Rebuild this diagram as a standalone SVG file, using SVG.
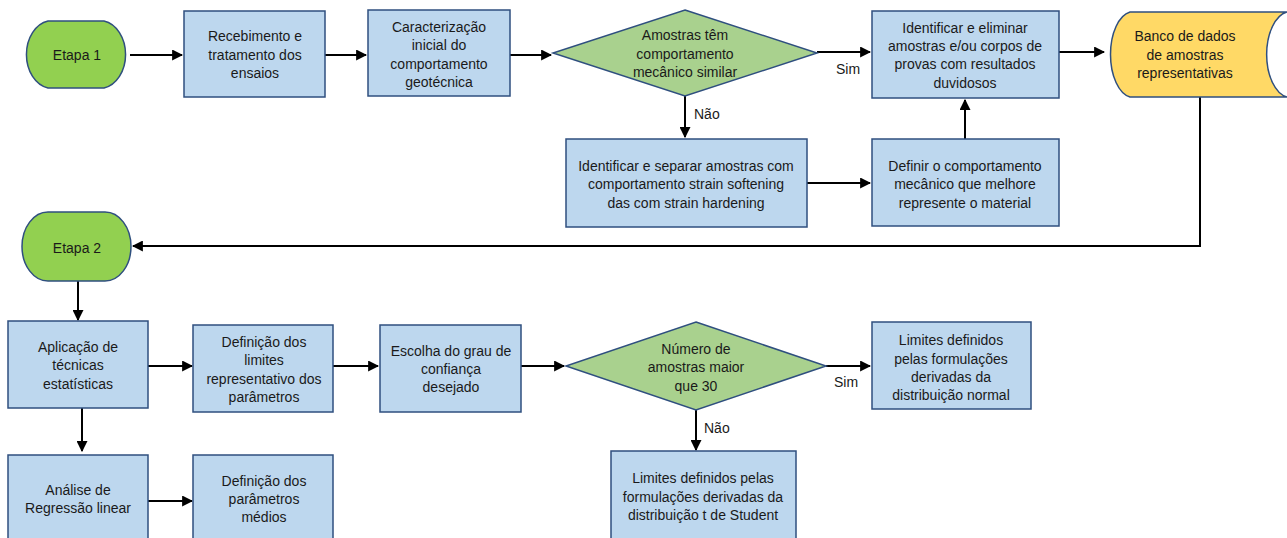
<svg xmlns="http://www.w3.org/2000/svg" width="1287" height="538" viewBox="0 0 1287 538">
<defs>
<style>
.box{fill:#bdd7ee;stroke:#2f4f7f;stroke-width:1.5}
.term{fill:#92d050;stroke:#2f4f7f;stroke-width:1.5}
.dia{fill:#a9d18e;stroke:#2f4f7f;stroke-width:1.5}
.db{fill:#ffd966;stroke:#2f4f7f;stroke-width:1.5}
text{font-family:"Liberation Sans",Arial,sans-serif;font-size:14px;fill:#1a1a1a;text-anchor:middle}
.lbl{text-anchor:start}
.con{fill:none;stroke:#000;stroke-width:2}
</style>
<marker id="ah" viewBox="0 0 10 10" refX="9" refY="5" markerWidth="5.5" markerHeight="5.5" orient="auto" markerUnits="strokeWidth">
<path d="M0,0 L10,5 L0,10 Z" fill="#000"/>
</marker>
</defs>
<rect width="1287" height="538" fill="#fff"/>

<g id="connectors">
<path class="con" d="M130,55 H182" marker-end="url(#ah)"/>
<path class="con" d="M325,55 H366" marker-end="url(#ah)"/>
<path class="con" d="M510,55 H551" marker-end="url(#ah)"/>
<path class="con" d="M817,52 H870" marker-end="url(#ah)"/>
<path class="con" d="M1059,52 H1104" marker-end="url(#ah)"/>
<path class="con" d="M685,96 V137" marker-end="url(#ah)"/>
<path class="con" d="M807,183 H870" marker-end="url(#ah)"/>
<path class="con" d="M965,139 V100" marker-end="url(#ah)"/>
<path class="con" d="M1200,97 V246 H133" marker-end="url(#ah)"/>
<path class="con" d="M78,281 V320" marker-end="url(#ah)"/>
<path class="con" d="M148,366 H192" marker-end="url(#ah)"/>
<path class="con" d="M333,366 H378" marker-end="url(#ah)"/>
<path class="con" d="M521,366 H564" marker-end="url(#ah)"/>
<path class="con" d="M826,366 H870" marker-end="url(#ah)"/>
<path class="con" d="M696,410 V450" marker-end="url(#ah)"/>
<path class="con" d="M82,408 V451" marker-end="url(#ah)"/>
<path class="con" d="M148,501 H192" marker-end="url(#ah)"/>
<text class="lbl" x="836" y="74">Sim</text>
<text class="lbl" x="694" y="119">Não</text>
<text class="lbl" x="834" y="387">Sim</text>
<text class="lbl" x="704" y="433">Não</text>
</g>

<g id="etapa1">
<path class="term" d="M48,21 H104 A26,34 0 0 1 104,88 H48 A26,34 0 0 1 48,21 Z"/>
<text x="77" y="60">Etapa 1</text>
</g>

<g id="recebimento">
<rect class="box" x="184" y="11" width="141" height="86"/>
<text x="255" y="41">Recebimento e</text>
<text x="255" y="60">tratamento dos</text>
<text x="255" y="78">ensaios</text>
</g>

<g id="caracterizacao">
<rect class="box" x="368" y="10" width="142" height="86"/>
<text x="439" y="32">Caracterização</text>
<text x="439" y="50">inicial do</text>
<text x="439" y="69">comportamento</text>
<text x="439" y="87">geotécnica</text>
</g>

<g id="decisao1">
<path class="dia" d="M685,10 L817,53 L685,96 L553,53 Z"/>
<text x="685" y="40">Amostras têm</text>
<text x="685" y="59">comportamento</text>
<text x="685" y="77">mecânico similar</text>
</g>

<g id="identificar-eliminar">
<rect class="box" x="872" y="11" width="187" height="87"/>
<text x="965" y="33">Identificar e eliminar</text>
<text x="965" y="51">amostras e/ou corpos de</text>
<text x="965" y="69">provas com resultados</text>
<text x="965" y="88">duvidosos</text>
</g>

<g id="banco">
<path class="db" d="M1130,12 H1287 A24,43 0 0 0 1287,97 H1130 A23,43 0 0 1 1130,12 Z"/>
<text x="1185" y="41">Banco de dados</text>
<text x="1185" y="60">de amostras</text>
<text x="1185" y="78">representativas</text>
</g>

<g id="identificar-separar">
<rect class="box" x="566" y="139" width="241" height="88"/>
<text x="686" y="171">Identificar e separar amostras com</text>
<text x="686" y="189">comportamento strain softening</text>
<text x="686" y="208">das com strain hardening</text>
</g>

<g id="definir-comportamento">
<rect class="box" x="872" y="139" width="187" height="87"/>
<text x="965" y="171">Definir o comportamento</text>
<text x="965" y="189">mecânico que melhore</text>
<text x="965" y="208">represente  o material</text>
</g>

<g id="etapa2">
<path class="term" d="M48,212 H105 A26,34.5 0 0 1 105,281 H48 A26,34.5 0 0 1 48,212 Z"/>
<text x="77" y="253">Etapa 2</text>
</g>

<g id="aplicacao">
<rect class="box" x="8" y="321" width="140" height="87"/>
<text x="78" y="352">Aplicação de</text>
<text x="78" y="370">técnicas</text>
<text x="78" y="389">estatísticas</text>
</g>

<g id="definicao-limites">
<rect class="box" x="193" y="325" width="140" height="87"/>
<text x="264" y="347">Definição dos</text>
<text x="264" y="365">limites</text>
<text x="264" y="384">representativo dos</text>
<text x="264" y="402">parâmetros</text>
</g>

<g id="escolha">
<rect class="box" x="380" y="325" width="141" height="87"/>
<text x="451" y="356">Escolha do grau de</text>
<text x="451" y="374">confiança</text>
<text x="451" y="392">desejado</text>
</g>

<g id="decisao2">
<path class="dia" d="M696,322 L826,366 L696,410 L566,366 Z"/>
<text x="696" y="354">Número de</text>
<text x="696" y="372">amostras maior</text>
<text x="696" y="391">que 30</text>
</g>

<g id="limites-normal">
<rect class="box" x="872" y="322" width="159" height="87"/>
<text x="951" y="345">Limites definidos</text>
<text x="951" y="364">pelas formulações</text>
<text x="951" y="382">derivadas da</text>
<text x="951" y="400">distribuição normal</text>
</g>

<g id="limites-student">
<rect class="box" x="611" y="451" width="185" height="90"/>
<text x="703" y="483">Limites definidos pelas</text>
<text x="703" y="502">formulações derivadas da</text>
<text x="703" y="520">distribuição t de Student</text>
</g>

<g id="regressao">
<rect class="box" x="8" y="455" width="140" height="86"/>
<text x="78" y="495">Análise de</text>
<text x="78" y="513">Regressão linear</text>
</g>

<g id="parametros-medios">
<rect class="box" x="193" y="455" width="140" height="86"/>
<text x="264" y="486">Definição dos</text>
<text x="264" y="504">parâmetros</text>
<text x="264" y="522">médios</text>
</g>
</svg>
